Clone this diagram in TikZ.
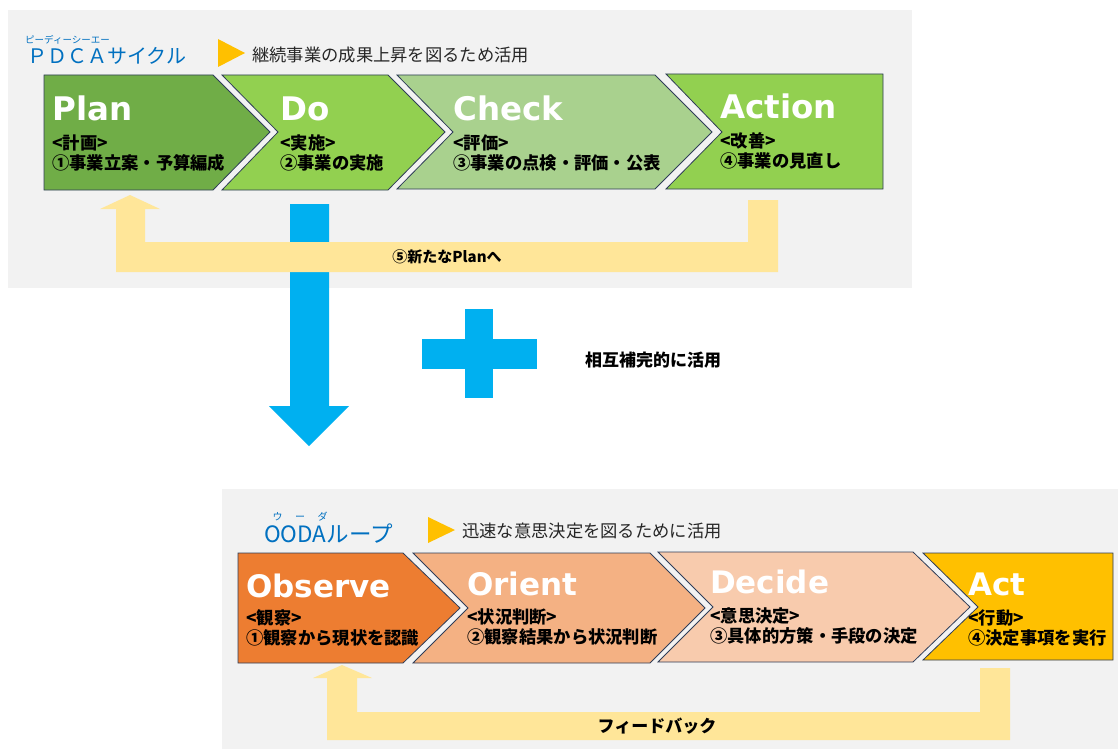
\documentclass[tikz,border=0pt]{standalone}
\usepackage{fontspec}
\setmainfont{Noto Sans CJK JP}
\newfontfamily\jp{Noto Sans CJK JP}
\newfontfamily\headfont{DejaVu Sans}
\definecolor{planc}{HTML}{70AD47}
\definecolor{doc}{HTML}{92D050}
\definecolor{checkc}{HTML}{A9D18E}
\definecolor{obsc}{HTML}{ED7D31}
\definecolor{oric}{HTML}{F4B183}
\definecolor{decc}{HTML}{F8CBAD}
\definecolor{actc}{HTML}{FFC000}
\definecolor{panelc}{HTML}{F2F2F2}
\definecolor{bandc}{HTML}{FFE699}
\definecolor{skyc}{HTML}{00B0F0}
\definecolor{titleblue}{HTML}{0070C0}
\definecolor{edgec}{HTML}{2F3D58}
\definecolor{inkc}{HTML}{262626}

\begin{document}
\begin{tikzpicture}[x=1pt,y=-1pt,
    chev/.style={draw=edgec,line width=0.8pt,line join=miter},
    head/.style={anchor=base west,inner sep=0pt,text=white,font=\headfont\bfseries\fontsize{32.5}{36}\selectfont},
    ohead/.style={head,font=\headfont\bfseries\fontsize{31}{35}\selectfont},
    sub/.style={anchor=west,inner sep=0pt,align=left,text=black,font=\jp\bfseries\fontsize{17.3}{20.5}\selectfont},
    lead/.style={anchor=west,inner sep=0pt,text=inkc,font=\jp\fontsize{17.3}{20}\selectfont},
    title/.style={anchor=west,inner sep=0pt,text=titleblue,font=\jp\fontsize{20}{23}\selectfont},
    ruby/.style={inner sep=0pt,text=titleblue,font=\jp\fontsize{9.5}{11}\selectfont},
    bandlabel/.style={inner sep=0pt,text=black,font=\jp\bfseries\fontsize{15}{18}\selectfont},
    marker/.style={fill=actc}]

    \useasboundingbox (0,0) rectangle (1118,749);
    \fill[white] (0,0) rectangle (1118,749);
    \fill[panelc] (8,10) rectangle (912,288);
    \fill[panelc] (222,489) rectangle (1118,749);

    % PDCA heading
    \node[ruby,anchor=west] (pdcaruby) at (25,40) {ピーディーシーエー};
    \node[title] (pdca) at (27,56) {ＰＤＣＡサイクル};
    \fill[marker] (218,39) -- (245,53) -- (218,67) -- cycle;
    \node[lead] (pdcalead) at (252,55) {継続事業の成果上昇を図るため活用};

    % arrow to OODA and plus sign
    \fill[skyc] (290,204) -- (329,204) -- (329,406) -- (349,406) -- (309,446) -- (269,406) -- (290,406) -- cycle;
    \fill[skyc] (465,309) rectangle (493,398);
    \fill[skyc] (422,339) rectangle (537,369);
    \node[anchor=west,inner sep=0pt,font=\jp\bfseries\fontsize{17}{20}\selectfont] (both) at (585,360) {相互補完的に活用};

    % return band of PDCA
    \fill[bandc] (130,195) -- (160,209) -- (145,209) -- (145,242) -- (748,242) -- (748,200) -- (778,200)
        -- (778,272) -- (116,272) -- (116,209) -- (100,209) -- cycle;
    \node[bandlabel] (again) at (447,257) {⑤新たなPlanへ};

    \filldraw[chev,fill=planc] (44,75) -- (213,75) -- (270,132) -- (213,190) -- (44,190) -- cycle;
    \filldraw[chev,fill=doc] (222,75) -- (388,75) -- (445,132) -- (388,190) -- (222,190) -- (278,132) -- cycle;
    \filldraw[chev,fill=checkc] (397,75) -- (655,75) -- (712,132) -- (655,189) -- (397,189) -- (453,132) -- cycle;
    \filldraw[chev,fill=doc] (666,74) -- (883,74) -- (883,189) -- (666,189) -- (722,132) -- cycle;

    \node[head] (plan) at (52,121) {Plan};
    \node[sub] (plansub) at (52,153) {<計画>\\①事業立案・予算編成};
    \node[head] (do) at (280,121) {Do};
    \node[sub] (dosub) at (280,153) {<実施>\\②事業の実施};
    \node[head] (check) at (453,121) {Check};
    \node[sub] (checksub) at (453,153) {<評価>\\③事業の点検・評価・公表};
    \node[head] (action) at (720,118) {Action};
    \node[sub] (actionsub) at (720,151) {<改善>\\④事業の見直し};

    % OODA heading
    \node[ruby,font=\jp\fontsize{10}{12}\selectfont] (oodaruby) at (300,517) {ウ\hspace{12.5pt}ー\hspace{12.5pt}ダ};
    \node[title,font=\jp\fontsize{22.5}{26}\selectfont] (ooda) at (264,534) {OODAループ};
    \fill[marker] (428,517) -- (455,530) -- (428,543) -- cycle;
    \node[lead] (oodalead) at (462,531) {迅速な意思決定を図るために活用};

    % feedback band of OODA
    \fill[bandc] (342,665) -- (372,678) -- (357,678) -- (357,712) -- (980,712) -- (980,668) -- (1010,668)
        -- (1010,740) -- (327,740) -- (327,678) -- (313,678) -- cycle;
    \node[bandlabel,font=\jp\bfseries\fontsize{17}{20}\selectfont] (feedback) at (657,726) {フィードバック};

    \filldraw[chev,fill=obsc] (238,553) -- (403,553) -- (460,608) -- (403,663) -- (238,663) -- cycle;
    \filldraw[chev,fill=oric] (413,553) -- (650,553) -- (705,608) -- (650,663) -- (413,663) -- (468,608) -- cycle;
    \filldraw[chev,fill=decc] (658,552) -- (913,552) -- (970,607) -- (913,662) -- (658,662) -- (713,607) -- cycle;
    \filldraw[chev,fill=actc] (923,553) -- (1113,553) -- (1113,660) -- (923,660) -- (978,607) -- cycle;

    \node[ohead] (observe) at (246,597) {Observe};
    \node[sub] (observesub) at (246,628) {<観察>\\①観察から現状を認識};
    \node[ohead] (orient) at (467,595) {Orient};
    \node[sub] (orientsub) at (467,627) {<状況判断>\\②観察結果から状況判断};
    \node[ohead] (decide) at (710,593) {Decide};
    \node[sub] (decidesub) at (710,626) {<意思決定>\\③具体的方策・手段の決定};
    \node[ohead] (act) at (968,595) {Act};
    \node[sub] (actsub) at (968,628) {<行動>\\④決定事項を実行};
\end{tikzpicture}
\end{document}
